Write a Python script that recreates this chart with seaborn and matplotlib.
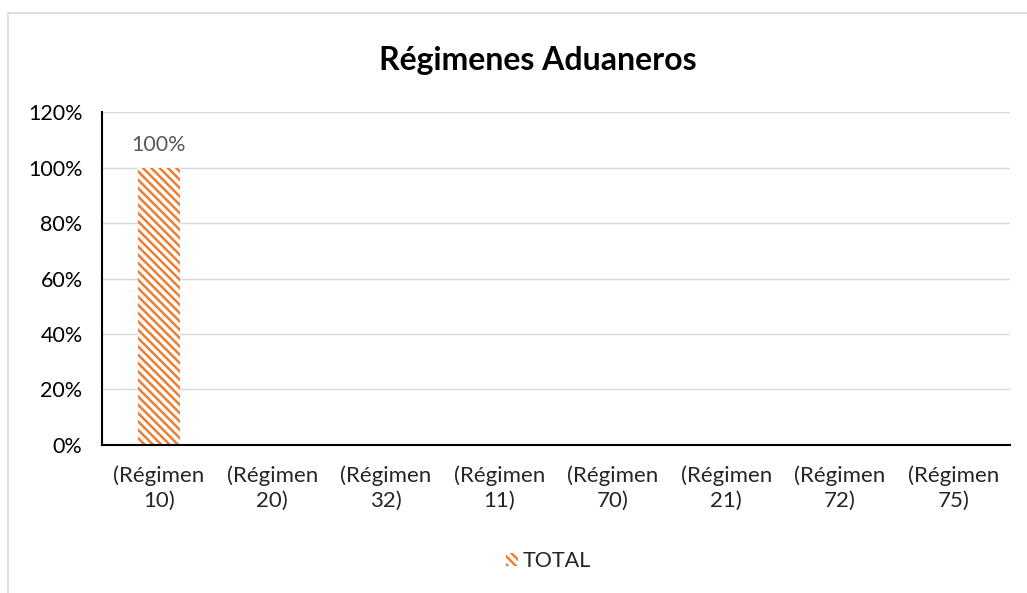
import matplotlib
matplotlib.use("Agg")
import matplotlib.pyplot as plt
import seaborn as sns
import pandas as pd
from matplotlib.lines import Line2D
from matplotlib.patches import Patch

categories = ["(Régimen\n10)", "(Régimen\n20)", "(Régimen\n32)", "(Régimen\n11)",
              "(Régimen\n70)", "(Régimen\n21)", "(Régimen\n72)", "(Régimen\n75)"]
values = [1.00, 0, 0, 0, 0, 0, 0, 0]
series_name = "TOTAL"
yticks = [0, 0.2, 0.4, 0.6, 0.8, 1.0, 1.2]
ytick_labels = ["0%", "20%", "40%", "60%", "80%", "100%", "120%"]

sns.set_style("white")
plt.rcParams['font.family'] = ['Lato', 'DejaVu Sans']
plt.rcParams['hatch.linewidth'] = 1.8

orange = "#ED7D31"
fs = 15.5
df = pd.DataFrame({"cat": categories, "val": values})

fig = plt.figure(figsize=(10.27, 5.93), dpi=100)
ax = fig.add_axes([0.0993, 0.2496, 0.8841, 0.5615])

sns.barplot(data=df, x="cat", y="val", ax=ax, width=0.37, color="white")
for p in ax.patches:
    p.set_facecolor("white")
    p.set_edgecolor(orange)
    p.set_linewidth(0)
    p.set_hatch("\\\\\\\\")

ax.set_ylim(0, 1.2)
ax.set_xlim(-0.5, len(categories) - 0.5)
ax.set_yticks(yticks)
ax.set_yticklabels(ytick_labels, fontsize=fs, color="#000000")
ax.tick_params(axis="y", length=0, pad=14)
ax.tick_params(axis="x", length=0, pad=15, labelsize=16)
ax.set_xlabel("")
ax.set_ylabel("")
ax.grid(axis="y", color="#D9D9D9", linewidth=1)
ax.set_axisbelow(True)
for s in ["top", "right"]:
    ax.spines[s].set_visible(False)
for s in ["left", "bottom"]:
    ax.spines[s].set_color("black")
    ax.spines[s].set_linewidth(1.5)
for lbl in ax.get_xticklabels():
    lbl.set_horizontalalignment("center")
    lbl.set_multialignment("center")
    lbl.set_linespacing(1.3)

for i, v in enumerate(values):
    if v > 0:
        ax.text(i, v + 0.045, f"{v*100:.0f}%", ha="center", va="bottom",
                fontsize=fs, color="#595959")

fig.text(0.524, 0.898, "Régimenes Aduaneros", ha="center", va="center",
         fontsize=23, fontweight="bold", color="#000000")

handle = Patch(facecolor="white", edgecolor=orange, hatch="\\\\\\\\", linewidth=0)
fig.legend([handle], [series_name], loc="center", bbox_to_anchor=(0.534, 0.054),
           frameon=False, fontsize=fs, handlelength=0.55, handleheight=0.55,
           handletextpad=0.2)

# outer chart frame (partially visible)
fig.add_artist(Line2D([0.0078, 0.0078], [0, 0.978], transform=fig.transFigure,
                      color="#D9D9D9", linewidth=1.2))
fig.add_artist(Line2D([0.0078, 1.0], [0.978, 0.978], transform=fig.transFigure,
                      color="#D9D9D9", linewidth=1.2))

fig.savefig("out.png", dpi=100)
